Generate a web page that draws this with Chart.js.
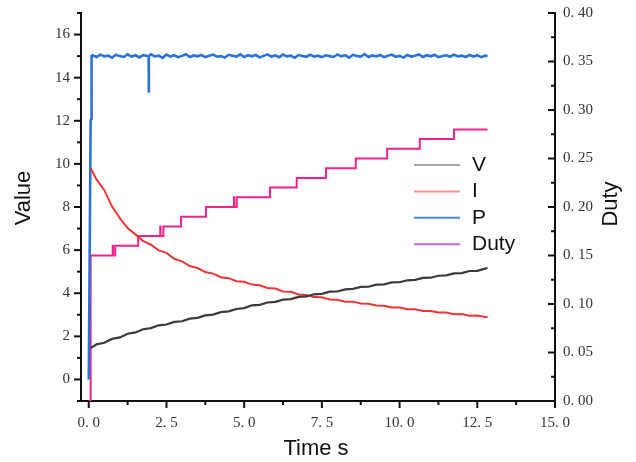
<!DOCTYPE html>
<html>
<head>
<meta charset="utf-8">
<script src="https://cdn.jsdelivr.net/npm/chart.js@4.4.1/dist/chart.umd.min.js"></script>
<style>
    body { margin: 0; background: #fff; }
    canvas { display: block; }
</style>
</head>
<body>
<canvas id="graficoEnsaio" width="636" height="462"></canvas>
<script>
// Tempos (s) das amostras de V e I
const tempoVI = [0.06, 0.25, 0.5, 0.75, 1, 1.25, 1.5, 1.75, 2, 2.25, 2.5, 2.75, 3, 3.25, 3.5, 3.75,
    4, 4.25, 4.5, 4.75, 5, 5.25, 5.5, 5.75, 6, 6.25, 6.5, 6.75, 7, 7.25, 7.5, 7.75,
    8, 8.25, 8.5, 8.75, 9, 9.25, 9.5, 9.75, 10, 10.25, 10.5, 10.75, 11, 11.25, 11.5, 11.75,
    12, 12.25, 12.5, 12.75, 12.83];
const tensaoV = [1.45, 1.63, 1.70, 1.88, 1.95, 2.12, 2.18, 2.33, 2.38, 2.51, 2.55, 2.67, 2.70, 2.82, 2.86, 2.97,
    3.01, 3.12, 3.16, 3.27, 3.31, 3.44, 3.46, 3.57, 3.60, 3.70, 3.73, 3.83, 3.85, 3.95, 3.97, 4.07,
    4.08, 4.18, 4.20, 4.29, 4.30, 4.40, 4.41, 4.50, 4.51, 4.60, 4.62, 4.71, 4.72, 4.81, 4.83, 4.92,
    4.93, 5.03, 5.04, 5.14, 5.17];
const correnteI = [9.80, 9.28, 8.78, 8.02, 7.48, 7.02, 6.73, 6.42, 6.25, 5.99, 5.87, 5.60, 5.48, 5.26, 5.17, 4.98,
    4.91, 4.74, 4.70, 4.56, 4.53, 4.40, 4.37, 4.24, 4.22, 4.08, 4.07, 3.94, 3.92, 3.82, 3.81, 3.71,
    3.70, 3.61, 3.61, 3.52, 3.51, 3.43, 3.42, 3.34, 3.34, 3.26, 3.26, 3.18, 3.18, 3.11, 3.11, 3.03,
    3.04, 2.96, 2.97, 2.90, 2.90];

// Potência: amostragem mais fina (ruído e a queda perto de 1.93 s)
const tempoP = [0, 0.06, 0.08, 0.09, 0.125,
    0.25, 0.375, 0.5, 0.625, 0.75, 0.875, 1, 1.125,
    1.25, 1.375, 1.5, 1.625, 1.75, 1.875, 1.925, 1.93, 1.935, 2,
    2.125, 2.25, 2.375, 2.5, 2.625, 2.75, 2.875, 3,
    3.125, 3.25, 3.375, 3.5, 3.625, 3.75, 3.875, 4,
    4.125, 4.25, 4.375, 4.5, 4.625, 4.75, 4.875, 5,
    5.125, 5.25, 5.375, 5.5, 5.625, 5.75, 5.875, 6,
    6.125, 6.25, 6.375, 6.5, 6.625, 6.75, 6.875, 7,
    7.125, 7.25, 7.375, 7.5, 7.625, 7.75, 7.875, 8,
    8.125, 8.25, 8.375, 8.5, 8.625, 8.75, 8.875, 9,
    9.125, 9.25, 9.375, 9.5, 9.625, 9.75, 9.875, 10,
    10.125, 10.25, 10.375, 10.5, 10.625, 10.75, 10.875, 11,
    11.125, 11.25, 11.375, 11.5, 11.625, 11.75, 11.875, 12,
    12.125, 12.25, 12.375, 12.5, 12.625, 12.75, 12.83];
const potenciaP = [0, 12.0, 12.1, 15.0, 15.04,
    14.96, 15.07, 14.99, 15.02, 14.93, 15.06, 15.00, 14.96,
    15.08, 14.98, 15.04, 14.94, 15.05, 15.01, 15.00, 13.30, 14.99, 15.08,
    14.99, 15.02, 14.92, 15.07, 14.98, 15.04, 14.95, 15.01,
    15.09, 14.96, 15.03, 14.99, 15.05, 14.95, 15.02, 15.07,
    14.97, 15.00, 14.93, 15.06, 15.02, 14.98, 15.08, 14.96,
    15.04, 14.99, 15.05, 14.94, 15.01, 15.08, 14.98, 15.03,
    14.95, 15.07, 14.99, 15.02, 14.92, 15.05, 15.01, 14.97,
    15.07, 14.98, 15.02, 14.95, 15.04, 15.00, 14.96, 15.08,
    14.99, 15.04, 14.93, 15.06, 15.01, 14.98, 15.09, 14.96,
    15.03, 14.99, 15.05, 14.95, 15.02, 15.07, 14.97, 15.01,
    14.93, 15.05, 14.98, 15.02, 15.08, 14.96, 15.04, 14.99,
    15.06, 14.95, 15.01, 15.04, 14.97, 15.07, 14.99, 15.02,
    14.96, 15.05, 14.98, 15.04, 14.95, 15.02, 15.00];

// Duty em degraus de 0.01 (com as pequenas oscilações nalguns degraus)
const tempoDuty = [0, 0.06, 0.77, 0.78, 0.85, 1.59, 2.30, 2.31, 2.40, 2.97, 3.77, 4.67, 4.68, 4.76,
    5.83, 6.69, 7.63, 8.59, 9.60, 10.65, 11.75, 12.83];
const valoresDuty = [0, 0.15, 0.16, 0.15, 0.16, 0.17, 0.18, 0.17, 0.18, 0.19, 0.20, 0.21, 0.20, 0.21,
    0.22, 0.23, 0.24, 0.25, 0.26, 0.27, 0.28, 0.28];

// Marcas dos eixos (as maiores levam rótulo)
const marcasX = [0, 1.25, 2.5, 3.75, 5, 6.25, 7.5, 8.75, 10, 11.25, 12.5, 13.75, 15];
const marcasValor = [-1, 0, 1, 2, 3, 4, 5, 6, 7, 8, 9, 10, 11, 12, 13, 14, 15, 16, 17];
const marcasDuty = [0, 0.025, 0.05, 0.075, 0.1, 0.125, 0.15, 0.175, 0.2, 0.225, 0.25, 0.275,
    0.3, 0.325, 0.35, 0.375, 0.4];

const nomesSeries = ['V', 'I', 'P', 'Duty'];
const coresSeries = ['#3b3b3b', '#ee3434', '#2a72dc', '#f0228c'];
const coresLegenda = ['#a6a6a6', '#f59595', '#4a88e2', '#c96ad0'];
const espessuras = [2.2, 2, 2.6, 2];

const fonteEixo = 'Liberation Serif';
const fonteTitulo = 'Liberation Sans';

function ehMultiplo(v, passo) {
    let r = v / passo;
    return Math.abs(r - Math.round(r)) < 1e-6;
}

function pontos(xs, ys) {
    return xs.map((x, i) => ({ x: x, y: ys[i] }));
}

// Rótulos no formato "0. 40"
function rotulo(v, casas) {
    return v.toFixed(casas).replace('.', '. ');
}

// Marcas maiores e menores desenhadas à mão
function desenharMarcas(ctx, escala, valores, passoMaior, lado) {
    ctx.save();
    ctx.strokeStyle = '#111';
    ctx.lineWidth = 2;
    valores.forEach(v => {
        let comp = ehMultiplo(v, passoMaior) ? 7 : 4;
        let p = escala.getPixelForValue(v);
        ctx.beginPath();
        if (lado === 'esquerda') {
            ctx.moveTo(escala.right, p); ctx.lineTo(escala.right - comp, p);
        } else if (lado === 'direita') {
            ctx.moveTo(escala.left, p); ctx.lineTo(escala.left - comp, p);
        } else {
            ctx.moveTo(p, escala.top); ctx.lineTo(p, escala.top + comp);
        }
        ctx.stroke();
    });
    ctx.restore();
}

const pluginEixos = {
    id: 'eixosExtra',
    afterDraw(chart) {
        let ctx = chart.ctx;
        let area = chart.chartArea;
        desenharMarcas(ctx, chart.scales.y, marcasValor, 2, 'esquerda');
        desenharMarcas(ctx, chart.scales.y2, marcasDuty, 0.05, 'direita');
        desenharMarcas(ctx, chart.scales.x, marcasX, 2.5, 'baixo');

        // títulos dos eixos
        ctx.save();
        ctx.fillStyle = '#111';
        ctx.font = '22px "' + fonteTitulo + '"';
        ctx.textAlign = 'center';
        ctx.textBaseline = 'middle';
        ctx.fillText('Time s', 316, 449);
        ctx.translate(24, 198);
        ctx.rotate(-Math.PI / 2);
        ctx.fillText('Value', 0, 0);
        ctx.restore();

        ctx.save();
        ctx.fillStyle = '#111';
        ctx.font = '22px "' + fonteTitulo + '"';
        ctx.textAlign = 'center';
        ctx.textBaseline = 'middle';
        ctx.translate(611, 204);
        ctx.rotate(-Math.PI / 2);
        ctx.fillText('Duty', 0, 0);
        ctx.restore();

        // legenda dentro da área do gráfico
        ctx.save();
        ctx.font = '21px "' + fonteTitulo + '"';
        ctx.textBaseline = 'middle';
        ctx.lineWidth = 2;
        chart.data.datasets.forEach((ds, i) => {
            let yl = area.top + 152 + i * 26.4;
            ctx.strokeStyle = coresLegenda[i];
            ctx.beginPath();
            ctx.moveTo(area.left + 333, yl);
            ctx.lineTo(area.left + 379, yl);
            ctx.stroke();
            ctx.fillStyle = '#111';
            ctx.fillText(ds.label, area.left + 391, yl);
        });
        ctx.restore();
    }
};

function escalaFixa(largura) {
    return function(escala) { escala.width = largura; };
}

const conjuntos = [
    { label: nomesSeries[0], data: pontos(tempoVI, tensaoV), yAxisID: 'y', borderColor: coresSeries[0], borderWidth: espessuras[0] },
    { label: nomesSeries[1], data: pontos(tempoVI, correnteI), yAxisID: 'y', borderColor: coresSeries[1], borderWidth: espessuras[1] },
    { label: nomesSeries[2], data: pontos(tempoP, potenciaP), yAxisID: 'y', borderColor: coresSeries[2], borderWidth: espessuras[2] },
    { label: nomesSeries[3], data: pontos(tempoDuty, valoresDuty), yAxisID: 'y2', borderColor: coresSeries[3], borderWidth: espessuras[3], stepped: 'before' }
];

const gradeInvisivel = { display: true, drawOnChartArea: false, drawTicks: true, tickLength: 7, color: 'rgba(0,0,0,0)' };

new Chart(document.getElementById('graficoEnsaio'), {
    type: 'line',
    data: { datasets: conjuntos },
    options: {
        responsive: false,
        animation: false,
        layout: { padding: { top: 13, left: 0, right: 0, bottom: 0 } },
        elements: { point: { radius: 0 }, line: { tension: 0 } },
        plugins: { legend: { display: false }, tooltip: { enabled: false } },
        scales: {
            x: {
                type: 'linear', min: -0.25, max: 15,
                grid: gradeInvisivel,
                border: { display: true, color: '#111', width: 2 },
                afterBuildTicks: e => { e.ticks = marcasX.filter(v => ehMultiplo(v, 2.5)).map(v => ({ value: v })); },
                afterFit: e => { e.height = 61; },
                ticks: { padding: 6, maxRotation: 0, color: '#333', font: { family: fonteEixo, size: 15 }, callback: v => rotulo(v, 1) }
            },
            y: {
                type: 'linear', position: 'left', min: -1, max: 17,
                grid: gradeInvisivel,
                border: { display: true, color: '#111', width: 2 },
                afterBuildTicks: e => { e.ticks = marcasValor.filter(v => v >= 0 && v <= 16 && ehMultiplo(v, 2)).map(v => ({ value: v })); },
                afterFit: escalaFixa(81),
                ticks: { padding: 4, color: '#333', font: { family: fonteEixo, size: 15 }, callback: v => String(v) }
            },
            y2: {
                type: 'linear', position: 'right', min: 0, max: 0.4,
                grid: Object.assign({}, gradeInvisivel, { tickLength: 4 }),
                border: { display: true, color: '#111', width: 2 },
                afterBuildTicks: e => { e.ticks = marcasDuty.filter(v => ehMultiplo(v, 0.05)).map(v => ({ value: v })); },
                afterFit: escalaFixa(81),
                ticks: { padding: 4, color: '#333', font: { family: fonteEixo, size: 15 }, callback: v => rotulo(v, 2) }
            }
        }
    },
    plugins: [pluginEixos]
});
</script>
</body>
</html>
